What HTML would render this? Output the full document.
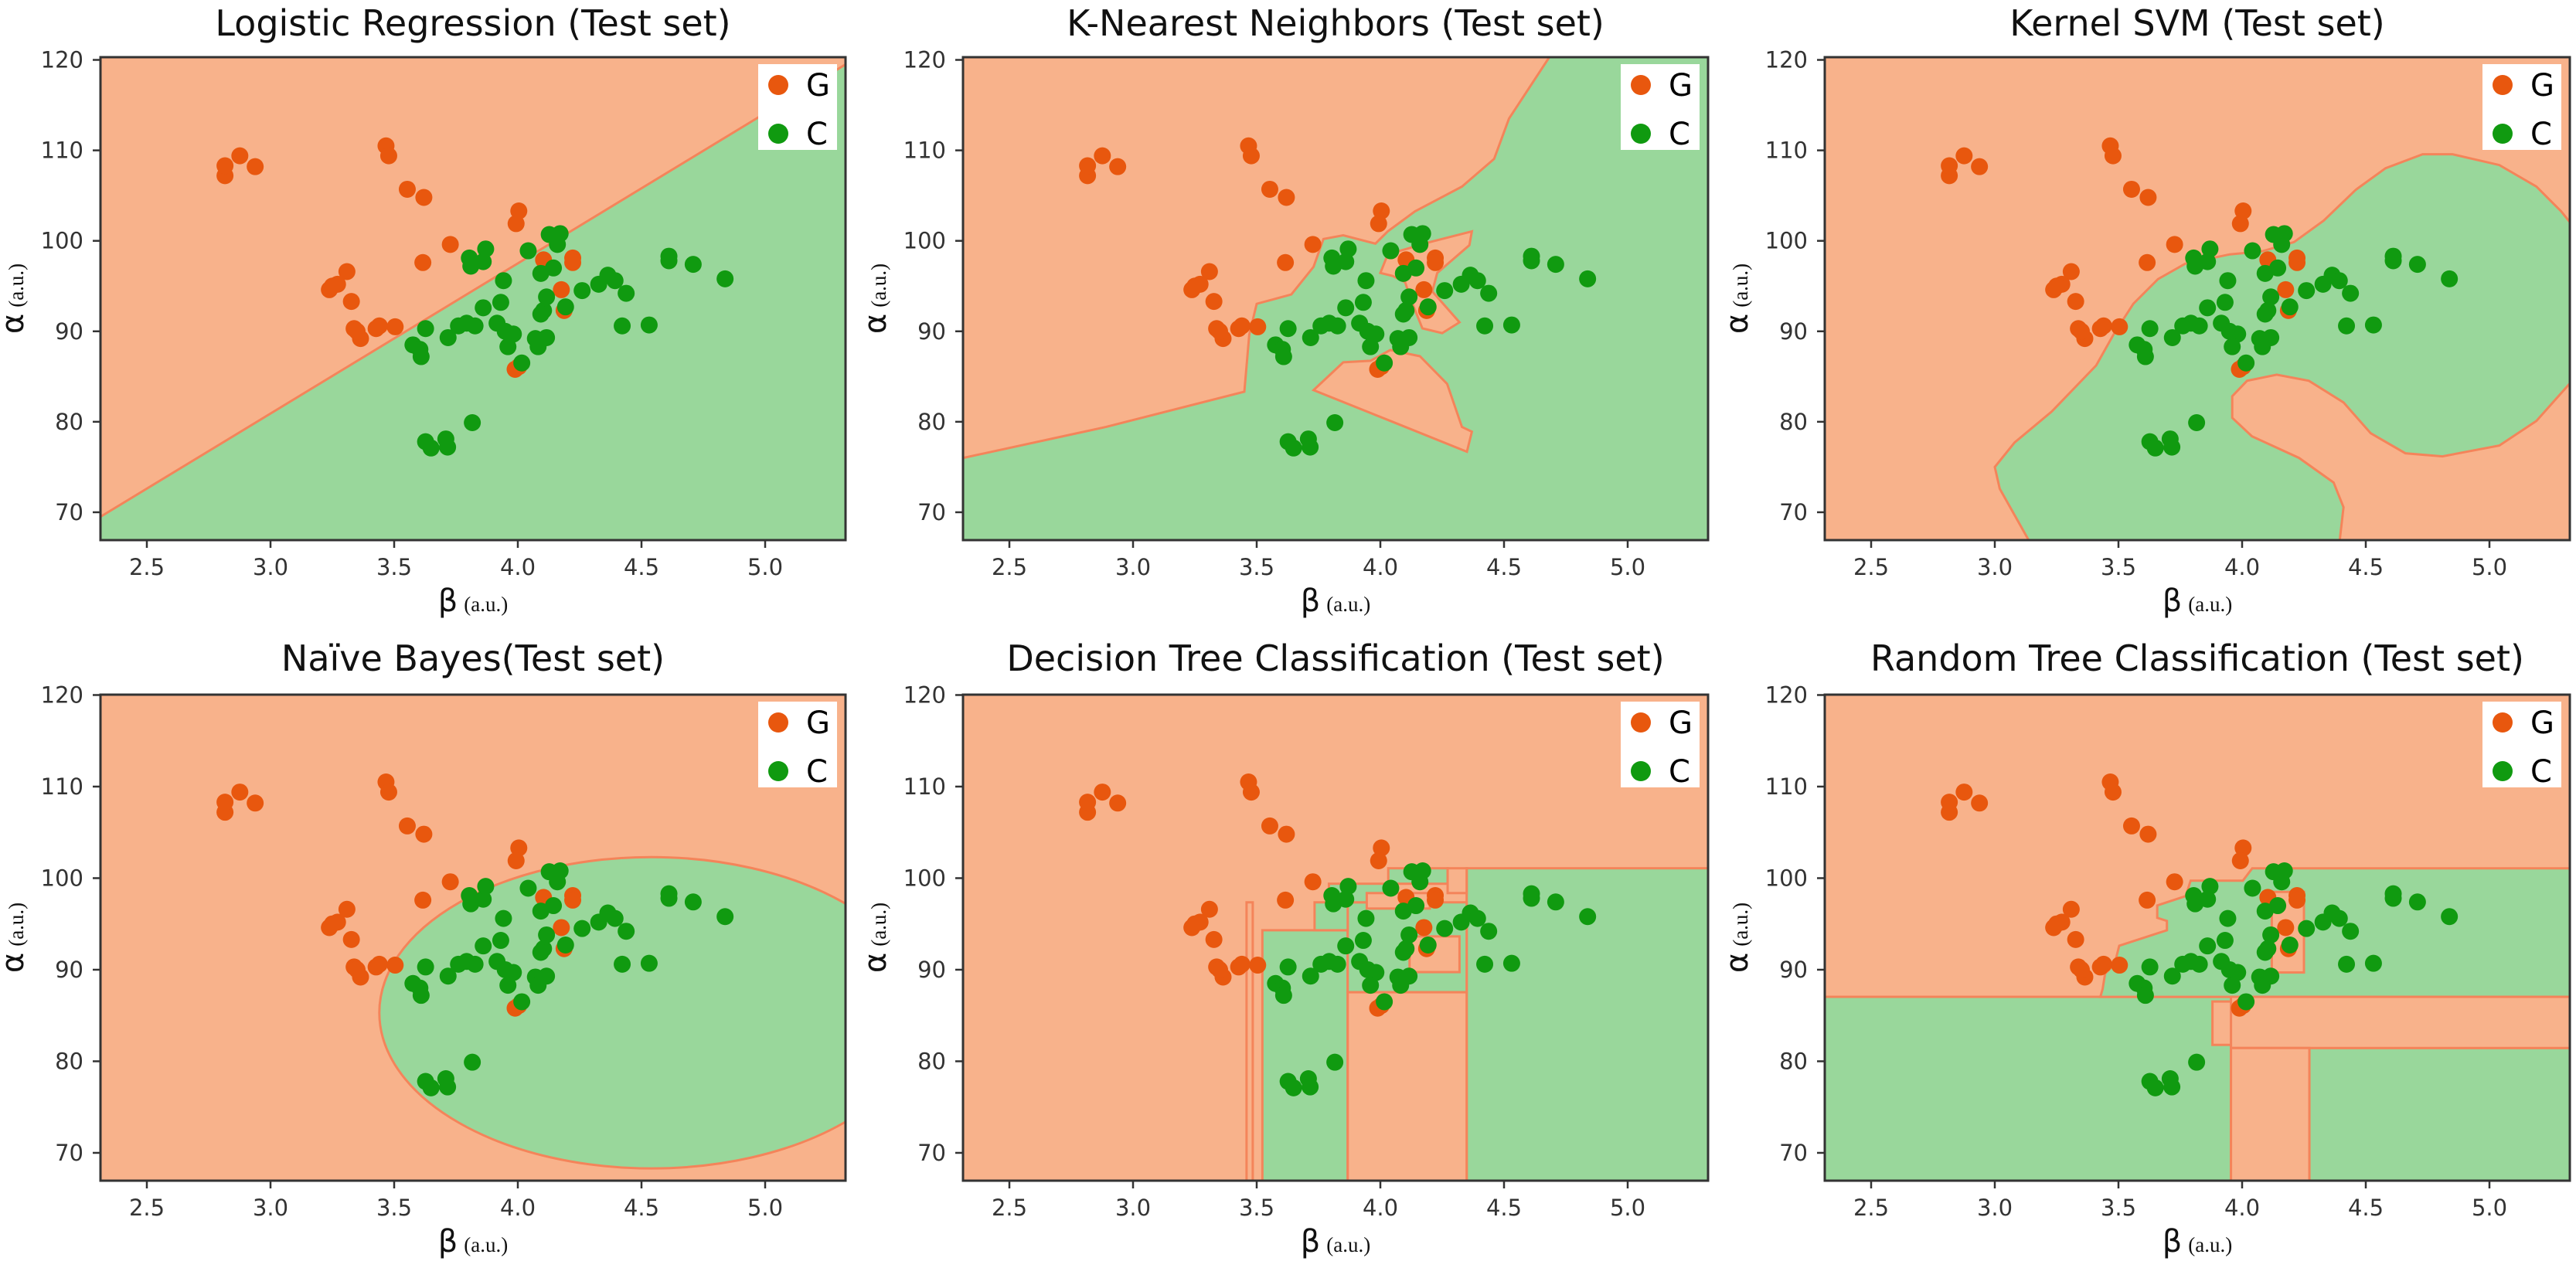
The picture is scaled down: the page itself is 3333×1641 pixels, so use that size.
<!DOCTYPE html>
<html><head><meta charset="utf-8"><style>
html,body{margin:0;padding:0;background:#fff;}
svg{display:block;}
text{font-family:"DejaVu Sans","Liberation Sans",sans-serif;}
</style></head>
<body>
<svg id="fig" width="3333" height="1641" viewBox="0 0 3333 1641" xmlns="http://www.w3.org/2000/svg"></svg>
<script>
// ---- data ----
const gX=[2.816,2.816,2.876,2.938,3.467,3.478,3.553,3.62,4.004,3.993,3.727,3.616,3.309,3.238,3.271,3.327,3.338,3.364,3.427,3.504,3.989,4.004,4.104,4.222,4.222,4.176,4.187,3.25,3.44,3.35];
const gY=[107.2,108.3,109.4,108.2,110.5,109.4,105.7,104.8,103.3,101.9,99.6,97.6,96.6,94.6,95.2,93.3,90.3,89.2,90.3,90.5,85.8,86.1,97.9,98.1,97.6,94.6,92.3,95.0,90.6,90.0];
const cX=[4.127,4.171,4.16,4.042,3.804,3.81,3.86,3.87,4.093,4.144,3.942,4.327,4.364,4.393,4.438,4.26,4.611,4.611,4.709,4.838,3.86,3.931,4.116,4.104,4.093,4.193,3.916,3.949,3.982,3.96,3.76,3.793,3.827,3.627,3.718,3.576,3.604,3.609,4.071,4.082,4.116,4.422,4.531,4.016,3.816,3.627,3.649,3.709,3.716];
const cY=[100.7,100.8,99.6,98.9,98.1,97.2,97.7,99.1,96.4,97.0,95.6,95.2,96.2,95.6,94.2,94.5,98.3,97.8,97.4,95.8,92.6,93.2,93.8,92.3,91.9,92.7,90.9,90.0,89.7,88.3,90.6,90.9,90.6,90.3,89.3,88.5,88.0,87.2,89.2,88.3,89.3,90.6,90.7,86.5,79.9,77.8,77.1,78.1,77.2];
const xTicks=[2.5,3.0,3.5,4.0,4.5,5.0];
const xTickLabels=["2.5","3.0","3.5","4.0","4.5","5.0"];
const yTicks=[70,80,90,100,110,120];
const yTickLabels=["70","80","90","100","110","120"];
const titles=["Logistic Regression (Test set)","K-Nearest Neighbors (Test set)","Kernel SVM (Test set)","Naïve Bayes(Test set)","Decision Tree Classification (Test set)","Random Tree Classification (Test set)"];
// decision-region boundaries (data units)
const logitLine=[[2.3125,69.5],[5.325,119.5]];
const knnOrange=[[2.2,121],[4.70,121],[4.52,113.5],[4.46,109.06],[4.33,105.99],[4.14,103.26],[4.03,101.05],[3.98,99.69],[3.85,100.61],[3.77,100.2],[3.73,97.13],[3.64,94.07],[3.50,93.04],[3.47,89.64],[3.45,83.33],[2.89,79.42],[2.2,75.33]];
const knnIslandA=[[4.00,96.45],[4.03,98.5],[4.20,99.86],[4.37,101.05],[4.36,99.52],[4.23,96.45],[4.21,94.41],[4.32,91.0],[4.25,89.8],[4.17,90.32],[4.13,93.04],[4.10,95.43],[4.05,96.11]];
const knnIslandB=[[3.73,83.5],[3.85,86.57],[3.96,86.74],[4.04,87.93],[4.16,87.25],[4.27,84.19],[4.33,79.42],[4.37,78.9],[4.35,76.69],[4.04,80.1]];
const svmGreen=[[3.16,65.8],[3.02,72.6],[3.00,75.0],[3.08,77.71],[3.23,81.12],[3.41,86.23],[3.48,89.64],[3.56,93.04],[3.66,95.77],[3.77,97.47],[3.95,98.5],[4.08,98.84],[4.21,99.86],[4.33,102.24],[4.46,105.65],[4.58,108.03],[4.73,109.57],[4.85,109.57],[5.04,108.38],[5.19,105.99],[5.29,103.26],[5.39,99.86],[5.39,86.23],[5.19,80.1],[5.04,77.37],[4.81,76.18],[4.66,76.52],[4.52,78.73],[4.41,82.14],[4.27,84.53],[4.14,85.21],[4.02,84.53],[3.96,82.82],[3.96,80.44],[4.04,78.39],[4.23,76.01],[4.37,73.28],[4.41,70.56],[4.39,65.8]];
const nbEllipse=[4.54,85.3,1.10,17.0]; // cx, cy, rx, ry
const dtGreen=[[4.349,5.4,60,101.08],[3.523,3.868,60,94.31],[3.868,4.349,87.54,97.36],[3.734,3.868,94.31,97.36],[3.792,4.041,97.36,99.39],[4.032,4.272,99.39,101.08]];
const dtOrange=[[3.945,4.20,96.68,98.37],[4.118,4.320,89.74,93.64],[4.272,4.349,98.37,101.08],[3.868,4.349,60,87.54],[3.459,3.484,60,97.36]];
const rfGreenPoly=[[3.427,87.04],[5.39,87.04],[5.39,101.08],[4.041,101.08],[4.003,99.73],[3.792,99.73],[3.772,98.04],[3.657,97.02],[3.657,95.67],[3.696,95.33],[3.696,94.31],[3.58,93.3],[3.503,92.62],[3.484,90.59],[3.446,89.57],[3.436,87.88]];
const rfGreen=[[2.2,3.955,60,87.04],[4.272,5.4,60,81.45]];
const rfOrange=[[3.88,3.96,81.79,86.53],[4.12,4.25,89.7,98.5],[3.955,5.4,81.45,87.04],[3.955,4.272,60,81.45]];

// ---- layout ----
const xmin=2.3125,xmax=5.325,W=964;
const colX=[130,1246,2361];
const rows=[{yt:74,yb:699,ymin:66.92,ymax:120.3,tb:46},{yt:899,yb:1528,ymin:66.96,ymax:120.04,tb:868}];
const OR="#f8b28b",GR="#99d79b",EDGE="#f4845a",GPT="#e8570e",CPT="#109a10";
const NS="http://www.w3.org/2000/svg";
const svg=document.getElementById('fig');
function mk(tag,attrs,parent){const e=document.createElementNS(NS,tag);for(const k in attrs)e.setAttribute(k,attrs[k]);(parent||svg).appendChild(e);return e;}

for(let i=0;i<6;i++){
  const r=rows[Math.floor(i/3)], x0=colX[i%3];
  const X=v=>x0+(v-xmin)/(xmax-xmin)*W;
  const Y=v=>r.yb-(v-r.ymin)/(r.ymax-r.ymin)*(r.yb-r.yt);
  const P=pts=>pts.map(p=>X(p[0]).toFixed(1)+","+Y(p[1]).toFixed(1)).join(" ");
  const g=mk('g',{});
  
  
  const cp=mk('clipPath',{id:'cp'+i},g);
  mk('rect',{x:x0,y:r.yt,width:W,height:r.yb-r.yt},cp);
  const t=mk('text',{x:x0+W/2,y:r.tb,'text-anchor':'middle','font-size':46,fill:'#111'},g);
  t.textContent=titles[i];
  
  
  const plot=mk('g',{'clip-path':'url(#cp'+i+')'},g);
  
  
  const poly=(pts,fill)=>mk('polygon',{points:P(pts),fill:fill,stroke:EDGE,'stroke-width':3},plot);
  const rect=(b,fill)=>mk('rect',{x:X(b[0]),y:Y(b[3]),width:X(b[1])-X(b[0]),height:Y(b[2])-Y(b[3]),fill:fill,stroke:EDGE,'stroke-width':3},plot);
  if(i===0){
    mk('rect',{x:x0,y:r.yt,width:W,height:r.yb-r.yt,fill:OR},plot);
    const s=(logitLine[1][1]-logitLine[0][1])/(logitLine[1][0]-logitLine[0][0]);
    const ly=x=>logitLine[0][1]+(x-logitLine[0][0])*s;
    poly([[2.0,ly(2.0)],[5.6,ly(5.6)],[5.6,40],[2.0,40]],GR);
  } else if(i===1){
    mk('rect',{x:x0,y:r.yt,width:W,height:r.yb-r.yt,fill:GR},plot);
    poly(knnOrange,OR);poly(knnIslandA,OR);poly(knnIslandB,OR);
  } else if(i===2){
    mk('rect',{x:x0,y:r.yt,width:W,height:r.yb-r.yt,fill:OR},plot);
    poly(svmGreen,GR);
  } else if(i===3){
    mk('rect',{x:x0,y:r.yt,width:W,height:r.yb-r.yt,fill:OR},plot);
    const e=nbEllipse;
    mk('ellipse',{cx:X(e[0]),cy:Y(e[1]),rx:X(e[0]+e[2])-X(e[0]),ry:Y(e[1])-Y(e[1]+e[3]),fill:GR,stroke:EDGE,'stroke-width':3},plot);
  } else if(i===4){
    mk('rect',{x:x0,y:r.yt,width:W,height:r.yb-r.yt,fill:OR},plot);
    dtGreen.forEach(b=>rect(b,GR));dtOrange.forEach(b=>rect(b,OR));
  } else {
    mk('rect',{x:x0,y:r.yt,width:W,height:r.yb-r.yt,fill:OR},plot);
    rfGreen.forEach(b=>rect(b,GR));poly(rfGreenPoly,GR);rfOrange.forEach(b=>rect(b,OR));
  }
  // points
  const pts=mk('g',{'clip-path':'url(#cp'+i+')'},g);
  for(let k=0;k<gX.length;k++){
    const c=mk('circle',{cx:X(gX[k]),cy:Y(gY[k]),r:11,fill:GPT},pts);
    
    
  }
  for(let k=0;k<cX.length;k++){
    const c=mk('circle',{cx:X(cX[k]),cy:Y(cY[k]),r:11,fill:CPT},pts);
    
    
  }
  // frame
  mk('rect',{x:x0,y:r.yt,width:W,height:r.yb-r.yt,fill:'none',stroke:'#333','stroke-width':3},g);
  // ticks
  xTicks.forEach((v,k)=>{
    mk('line',{x1:X(v),x2:X(v),y1:r.yb,y2:r.yb+10,stroke:'#333','stroke-width':2.5},g);
    const tl=mk('text',{x:X(v),y:r.yb+45,'text-anchor':'middle','font-size':29,fill:'#333'},g);
    tl.textContent=xTickLabels[k];
    
    
  });
  yTicks.forEach((v,k)=>{
    mk('line',{x1:x0-10,x2:x0,y1:Y(v),y2:Y(v),stroke:'#333','stroke-width':2.5},g);
    const tl=mk('text',{x:x0-22,y:Y(v)+10,'text-anchor':'end','font-size':29,fill:'#333'},g);
    tl.textContent=yTickLabels[k];
    
    
  });
  // axis titles
  const xl=mk('text',{x:x0+W/2,y:r.yb+92,'text-anchor':'middle',fill:'#111'},g);
  xl.innerHTML='<tspan font-size="40">β</tspan><tspan font-size="27" font-family="Liberation Serif, serif" dx="8">(a.u.)</tspan>';
  
  
  const cy=(r.yt+r.yb)/2, lx=x0-100;
  const yl=mk('text',{x:lx,y:cy,'text-anchor':'middle',fill:'#111',transform:'rotate(-90 '+lx+' '+cy+')'},g);
  yl.innerHTML='<tspan font-size="40">α</tspan><tspan font-size="27" font-family="Liberation Serif, serif" dx="8">(a.u.)</tspan>';
  
  
  // legend
  const lg=mk('g',{},g);
  
  
  const bx=x0+W-113, by=r.yt+9;
  mk('rect',{x:bx,y:by,width:102,height:111,fill:'#fff'},lg);
  [["G",GPT,36],["C",CPT,99]].forEach(e=>{
    mk('circle',{cx:bx+26,cy:by+e[2]-9,r:13,fill:e[1]},lg);
    const lt=mk('text',{x:bx+62,y:by+e[2]+5,'font-size':40,fill:'#000'},lg);
    lt.textContent=e[0];
    
    
  });
}
</script>
</body></html>
